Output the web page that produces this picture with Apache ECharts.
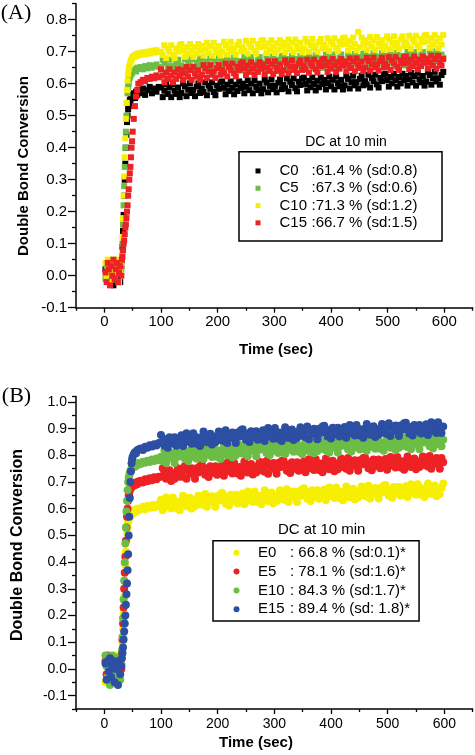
<!DOCTYPE html>
<html><head><meta charset="utf-8">
<script src="https://cdn.jsdelivr.net/npm/echarts@6/dist/echarts.min.js"></script>
<style>html,body{margin:0;padding:0;background:#fff}#c{width:475px;height:755px}</style>
</head><body><div id="c"></div>
<script>
// ---- shared sampling times (sec) ----
const time = [2,4,6,8,10,12,14,16,18,20,22,24,26,28,30,
31,32,33,34,35,36,37,38,39,40,41,42,43,44,45,46,47,48,49,50,
52,54,56,58,60,
64,68,72,76,80,84,88,92,96,
100,103,106,109,112,115,118,121,124,127,130,133,
136,139,142,145,148,151,154,157,160,163,166,169,
172,175,178,181,184,187,190,193,196,199,202,205,
208,211,214,217,220,223,226,229,232,235,238,241,
244,247,250,253,256,259,262,265,268,271,274,277,
280,283,286,289,292,295,298,301,304,307,310,313,
316,319,322,325,328,331,334,337,340,343,346,349,
352,355,358,361,364,367,370,373,376,379,382,385,
388,391,394,397,400,403,406,409,412,415,418,421,
424,427,430,433,436,439,442,445,448,451,454,457,
460,463,466,469,472,475,478,481,484,487,490,493,
496,499,502,505,508,511,514,517,520,523,526,529,
532,535,538,541,544,547,550,553,556,559,562,565,
568,571,574,577,580,583,586,589,592,595,598];

// ---- panel A series ----
const namesA = ['C0','C5','C10','C15'];
const detailsA = [':61.4 % (sd:0.8)', ':67.3 % (sd:0.6)', ':71.3 % (sd:1.2)', ':66.7 % (sd:1.5)'];
const C0 = [0.02,-0.01,0.03,0.00,-0.02,0.04,0.01,-0.03,0.02,0.03,-0.01,0.00,0.04,-0.02,0.03,
0.05,0.09,0.14,0.19,0.25,0.30,0.35,0.40,0.44,0.48,0.50,0.52,0.53,0.54,0.55,0.545,0.56,0.555,0.565,0.56,
0.57,0.555,0.575,0.565,0.58,
0.57,0.585,0.565,0.58,0.59,0.57,0.585,0.575,0.59,
0.588,0.558,0.578,0.598,0.568,0.588,0.558,0.598,0.578,0.568,0.588,0.558,
0.571,0.601,0.591,0.561,0.581,0.601,0.571,0.581,0.561,0.591,0.601,0.571,
0.584,0.574,0.604,0.564,0.594,0.584,0.604,0.574,0.564,0.594,0.584,0.604,
0.607,0.587,0.567,0.597,0.577,0.607,0.587,0.567,0.597,0.577,0.607,0.587,
0.6,0.57,0.59,0.61,0.58,0.6,0.57,0.61,0.59,0.58,0.6,0.57,
0.583,0.613,0.603,0.573,0.593,0.613,0.583,0.593,0.573,0.603,0.613,0.583,
0.596,0.586,0.616,0.576,0.606,0.596,0.616,0.586,0.576,0.606,0.596,0.616,
0.619,0.599,0.579,0.609,0.589,0.619,0.599,0.579,0.609,0.589,0.619,0.599,
0.612,0.582,0.602,0.622,0.592,0.612,0.582,0.622,0.602,0.592,0.612,0.582,
0.595,0.625,0.615,0.585,0.605,0.625,0.595,0.605,0.585,0.615,0.625,0.595,
0.608,0.598,0.628,0.588,0.618,0.608,0.628,0.598,0.588,0.618,0.608,0.628,
0.631,0.611,0.591,0.621,0.601,0.631,0.611,0.591,0.621,0.601,0.631,0.611,
0.624,0.594,0.614,0.634,0.604,0.624,0.594,0.634,0.614,0.604,0.624,0.594,
0.607,0.637,0.627,0.597,0.617,0.637,0.607,0.617,0.597,0.627,0.637];
const C5 = [-0.01,0.03,0.01,0.04,-0.02,0.02,0.00,0.03,-0.01,0.04,0.02,-0.02,0.01,0.03,0.02,
0.06,0.10,0.16,0.22,0.28,0.34,0.40,0.45,0.50,0.54,0.57,0.59,0.60,0.615,0.62,0.625,0.63,0.63,0.635,0.64,
0.64,0.645,0.638,0.65,0.646,
0.652,0.645,0.655,0.648,0.658,0.65,0.656,0.66,0.652,
0.645,0.675,0.665,0.635,0.655,0.675,0.645,0.655,0.635,0.665,0.675,0.645,
0.657,0.647,0.677,0.637,0.667,0.657,0.677,0.647,0.637,0.667,0.657,0.677,
0.679,0.659,0.639,0.669,0.649,0.679,0.659,0.639,0.669,0.649,0.679,0.659,
0.671,0.641,0.661,0.681,0.651,0.671,0.641,0.681,0.661,0.651,0.671,0.641,
0.653,0.683,0.673,0.643,0.663,0.683,0.653,0.663,0.643,0.673,0.683,0.653,
0.665,0.655,0.685,0.645,0.675,0.665,0.685,0.655,0.645,0.675,0.665,0.685,
0.687,0.667,0.647,0.677,0.657,0.687,0.667,0.647,0.677,0.657,0.687,0.667,
0.679,0.649,0.669,0.689,0.659,0.679,0.649,0.689,0.669,0.659,0.679,0.649,
0.661,0.691,0.681,0.651,0.671,0.691,0.661,0.671,0.651,0.681,0.691,0.661,
0.673,0.663,0.693,0.653,0.683,0.673,0.693,0.663,0.653,0.683,0.673,0.693,
0.695,0.675,0.655,0.685,0.665,0.695,0.675,0.655,0.685,0.665,0.695,0.675,
0.687,0.657,0.677,0.697,0.667,0.687,0.657,0.697,0.677,0.667,0.687,0.657,
0.669,0.699,0.689,0.659,0.679,0.699,0.669,0.679,0.659,0.689,0.699,0.669,
0.681,0.671,0.701,0.661,0.691,0.681,0.701,0.671,0.661,0.691,0.681];
const C10 = [0.04,0.00,0.05,0.02,-0.02,0.03,0.05,0.01,-0.01,0.04,0.02,0.05,-0.02,0.01,0.04,
0.07,0.12,0.18,0.25,0.31,0.37,0.43,0.49,0.54,0.58,0.61,0.63,0.645,0.655,0.66,0.668,0.672,0.675,0.68,0.684,
0.688,0.684,0.692,0.687,0.695,
0.69,0.698,0.692,0.7,0.694,0.703,0.697,0.705,0.699,
0.700,0.690,0.720,0.680,0.710,0.700,0.720,0.690,0.680,0.710,0.700,0.720,
0.724,0.704,0.684,0.714,0.694,0.724,0.704,0.684,0.714,0.694,0.724,0.704,
0.718,0.688,0.708,0.728,0.698,0.718,0.688,0.728,0.708,0.698,0.718,0.688,
0.701,0.731,0.721,0.691,0.711,0.731,0.701,0.711,0.691,0.721,0.731,0.701,
0.714,0.704,0.734,0.694,0.724,0.714,0.734,0.704,0.694,0.724,0.714,0.734,
0.736,0.716,0.696,0.726,0.706,0.736,0.716,0.696,0.726,0.706,0.736,0.716,
0.728,0.698,0.718,0.738,0.708,0.728,0.698,0.738,0.718,0.708,0.728,0.698,
0.710,0.740,0.730,0.700,0.720,0.740,0.710,0.720,0.700,0.730,0.740,0.710,
0.722,0.712,0.742,0.702,0.732,0.722,0.742,0.712,0.702,0.732,0.722,0.742,
0.744,0.724,0.704,0.734,0.714,0.744,0.724,0.704,0.762,0.714,0.744,0.724,
0.736,0.706,0.726,0.746,0.716,0.736,0.706,0.746,0.726,0.716,0.736,0.706,
0.718,0.748,0.738,0.708,0.728,0.748,0.718,0.728,0.708,0.738,0.748,0.718,
0.730,0.720,0.750,0.710,0.740,0.730,0.750,0.720,0.710,0.740,0.730,0.750,
0.752,0.732,0.712,0.742,0.722,0.752,0.732,0.712,0.742,0.722,0.752];
const C15 = [0.01,-0.02,0.04,0.02,-0.03,0.03,0.00,0.05,-0.01,0.02,0.04,-0.02,0.01,0.03,0.00,
0.05,0.06,0.08,0.10,0.11,0.13,0.15,0.16,0.18,0.20,0.22,0.25,0.27,0.30,0.32,0.34,0.37,0.40,0.42,0.45,
0.49,0.53,0.56,0.58,0.60,
0.605,0.612,0.608,0.618,0.615,0.622,0.617,0.626,0.62,
0.645,0.625,0.605,0.635,0.615,0.645,0.625,0.605,0.635,0.615,0.645,0.625,
0.642,0.612,0.632,0.652,0.622,0.642,0.612,0.652,0.632,0.622,0.642,0.612,
0.628,0.658,0.648,0.618,0.638,0.658,0.628,0.638,0.618,0.648,0.658,0.628,
0.643,0.633,0.663,0.623,0.653,0.643,0.663,0.633,0.623,0.653,0.643,0.663,
0.667,0.647,0.627,0.657,0.637,0.667,0.647,0.627,0.657,0.637,0.667,0.647,
0.660,0.630,0.650,0.670,0.640,0.660,0.630,0.670,0.650,0.640,0.660,0.630,
0.643,0.673,0.663,0.633,0.653,0.673,0.643,0.653,0.633,0.663,0.673,0.643,
0.655,0.645,0.675,0.635,0.665,0.655,0.675,0.645,0.635,0.665,0.655,0.675,
0.677,0.657,0.637,0.667,0.647,0.677,0.657,0.637,0.667,0.647,0.677,0.657,
0.669,0.639,0.659,0.679,0.649,0.669,0.639,0.679,0.659,0.649,0.669,0.639,
0.651,0.681,0.671,0.641,0.661,0.681,0.651,0.661,0.641,0.671,0.681,0.651,
0.663,0.653,0.683,0.643,0.673,0.663,0.683,0.653,0.643,0.673,0.663,0.683,
0.685,0.665,0.645,0.675,0.655,0.685,0.665,0.645,0.675,0.655,0.685,0.665,
0.677,0.647,0.667,0.687,0.657,0.677,0.647,0.687,0.667,0.657,0.677];

// ---- panel B series ----
const namesB = ['E0','E5','E10','E15'];
const detailsB = [': 66.8 % (sd:0.1)*', ': 78.1 % (sd:1.6)*', ': 84.3 % (sd:1.7)*', ': 89.4 % (sd: 1.8)*'];
const E0 = [-0.05,0.02,-0.03,0.04,0.0,-0.04,0.03,-0.02,0.01,0.05,-0.03,0.02,-0.01,0.03,0.01,
0.06,0.10,0.15,0.21,0.27,0.33,0.39,0.44,0.48,0.51,0.53,0.55,0.56,0.565,0.57,0.575,0.58,0.578,0.585,0.59,
0.584,0.595,0.59,0.6,0.594,
0.6,0.607,0.598,0.61,0.604,0.613,0.606,0.615,0.609,
0.634,0.594,0.618,0.642,0.610,0.626,0.602,0.642,0.618,0.602,0.626,0.594,
0.617,0.649,0.633,0.609,0.625,0.641,0.601,0.625,0.609,0.633,0.649,0.617,
0.631,0.615,0.655,0.607,0.639,0.631,0.647,0.623,0.607,0.647,0.631,0.655,
0.660,0.636,0.620,0.644,0.612,0.652,0.636,0.628,0.652,0.620,0.644,0.628,
0.657,0.617,0.641,0.665,0.633,0.649,0.625,0.665,0.641,0.625,0.649,0.617,
0.637,0.669,0.653,0.629,0.645,0.661,0.621,0.645,0.629,0.653,0.669,0.637,
0.649,0.633,0.673,0.625,0.657,0.649,0.665,0.641,0.625,0.665,0.649,0.673,
0.677,0.653,0.637,0.661,0.629,0.669,0.653,0.645,0.669,0.637,0.661,0.645,
0.672,0.632,0.656,0.680,0.648,0.664,0.640,0.680,0.656,0.640,0.664,0.632,
0.651,0.683,0.667,0.643,0.659,0.675,0.635,0.659,0.643,0.667,0.683,0.651,
0.662,0.646,0.686,0.638,0.670,0.662,0.678,0.654,0.638,0.678,0.662,0.686,
0.689,0.665,0.649,0.673,0.641,0.681,0.665,0.657,0.681,0.649,0.673,0.657,
0.684,0.644,0.668,0.692,0.660,0.676,0.652,0.692,0.668,0.652,0.676,0.644,
0.663,0.695,0.679,0.655,0.671,0.687,0.647,0.671,0.655,0.679,0.695];
const E5 = [0.03,-0.02,0.05,0.0,-0.04,0.02,0.04,-0.01,0.03,-0.03,0.01,0.04,-0.02,0.02,0.0,
0.06,0.11,0.17,0.23,0.30,0.36,0.42,0.48,0.53,0.57,0.60,0.63,0.65,0.66,0.67,0.675,0.68,0.685,0.682,0.69,
0.694,0.688,0.698,0.692,0.702,
0.705,0.698,0.71,0.703,0.714,0.707,0.718,0.71,0.72,
0.720,0.752,0.736,0.712,0.728,0.744,0.704,0.728,0.712,0.736,0.752,0.720,
0.736,0.720,0.760,0.712,0.744,0.736,0.752,0.728,0.712,0.752,0.736,0.760,
0.767,0.743,0.727,0.751,0.719,0.759,0.743,0.735,0.759,0.727,0.751,0.735,
0.764,0.724,0.748,0.772,0.740,0.756,0.732,0.772,0.748,0.732,0.756,0.724,
0.744,0.776,0.760,0.736,0.752,0.768,0.728,0.752,0.736,0.760,0.776,0.744,
0.755,0.739,0.779,0.731,0.763,0.755,0.771,0.747,0.731,0.771,0.755,0.779,
0.782,0.758,0.742,0.766,0.734,0.774,0.758,0.750,0.774,0.742,0.766,0.750,
0.777,0.737,0.761,0.785,0.753,0.769,0.745,0.785,0.761,0.745,0.769,0.737,
0.756,0.788,0.772,0.748,0.764,0.780,0.740,0.764,0.748,0.772,0.788,0.756,
0.766,0.750,0.790,0.742,0.774,0.766,0.782,0.758,0.742,0.782,0.766,0.790,
0.792,0.768,0.752,0.776,0.744,0.784,0.768,0.760,0.784,0.752,0.776,0.760,
0.786,0.746,0.770,0.794,0.762,0.778,0.754,0.794,0.770,0.754,0.778,0.746,
0.764,0.796,0.780,0.756,0.772,0.788,0.748,0.772,0.756,0.780,0.796,0.764,
0.774,0.758,0.798,0.750,0.782,0.774,0.790,0.766,0.750,0.790,0.774];
const E10 = [0.05,0.01,-0.03,0.04,-0.06,0.02,0.05,0.0,-0.02,0.03,-0.05,0.04,0.01,-0.04,0.02,
0.07,0.12,0.19,0.26,0.33,0.40,0.47,0.53,0.59,0.63,0.67,0.70,0.715,0.725,0.735,0.74,0.745,0.75,0.755,0.758,
0.762,0.757,0.767,0.763,0.771,
0.768,0.776,0.772,0.78,0.775,0.784,0.779,0.788,0.782,
0.795,0.779,0.819,0.771,0.803,0.795,0.811,0.787,0.771,0.811,0.795,0.819,
0.827,0.803,0.787,0.811,0.779,0.819,0.803,0.795,0.819,0.787,0.811,0.795,
0.826,0.786,0.810,0.834,0.802,0.818,0.794,0.834,0.810,0.794,0.818,0.786,
0.808,0.840,0.824,0.800,0.816,0.832,0.792,0.816,0.800,0.824,0.840,0.808,
0.821,0.805,0.845,0.797,0.829,0.821,0.837,0.813,0.797,0.837,0.821,0.845,
0.849,0.825,0.809,0.833,0.801,0.841,0.825,0.817,0.841,0.809,0.833,0.817,
0.845,0.805,0.829,0.853,0.821,0.837,0.813,0.853,0.829,0.813,0.837,0.805,
0.824,0.856,0.840,0.816,0.832,0.848,0.808,0.832,0.816,0.840,0.856,0.824,
0.835,0.819,0.859,0.811,0.843,0.835,0.851,0.827,0.811,0.851,0.835,0.859,
0.862,0.838,0.822,0.846,0.814,0.854,0.838,0.830,0.854,0.822,0.846,0.830,
0.857,0.817,0.841,0.865,0.833,0.849,0.825,0.865,0.841,0.825,0.849,0.817,
0.836,0.868,0.852,0.828,0.844,0.860,0.820,0.844,0.828,0.852,0.868,0.836,
0.847,0.831,0.871,0.823,0.855,0.847,0.863,0.839,0.823,0.863,0.847,0.871,
0.874,0.850,0.834,0.858,0.826,0.866,0.850,0.842,0.866,0.834,0.858];
const E15 = [0.02,-0.04,0.03,-0.01,0.04,-0.03,0.01,0.03,-0.05,0.0,0.02,-0.06,0.03,-0.02,0.01,
0.04,0.06,0.08,0.11,0.14,0.17,0.20,0.24,0.28,0.32,0.37,0.43,0.50,0.57,0.64,0.70,0.74,0.77,0.785,0.795,
0.805,0.812,0.808,0.818,0.822,
0.826,0.82,0.832,0.828,0.838,0.833,0.842,0.837,0.846,
0.876,0.852,0.836,0.860,0.828,0.868,0.852,0.844,0.868,0.836,0.860,0.844,
0.875,0.835,0.859,0.883,0.851,0.867,0.843,0.883,0.859,0.843,0.867,0.835,
0.857,0.889,0.873,0.849,0.865,0.881,0.841,0.865,0.849,0.873,0.889,0.857,
0.870,0.854,0.894,0.846,0.878,0.870,0.886,0.862,0.846,0.886,0.870,0.894,
0.898,0.874,0.858,0.882,0.850,0.890,0.874,0.866,0.890,0.858,0.882,0.866,
0.894,0.854,0.878,0.902,0.870,0.886,0.862,0.902,0.878,0.862,0.886,0.854,
0.873,0.905,0.889,0.865,0.881,0.897,0.857,0.881,0.865,0.889,0.905,0.873,
0.884,0.868,0.908,0.860,0.892,0.884,0.900,0.876,0.860,0.900,0.884,0.908,
0.911,0.887,0.871,0.895,0.863,0.903,0.887,0.879,0.903,0.871,0.895,0.879,
0.906,0.866,0.890,0.914,0.882,0.898,0.874,0.914,0.890,0.874,0.898,0.866,
0.885,0.917,0.901,0.877,0.893,0.909,0.869,0.893,0.877,0.901,0.917,0.885,
0.896,0.880,0.920,0.872,0.904,0.896,0.912,0.888,0.872,0.912,0.896,0.920,
0.922,0.898,0.882,0.906,0.874,0.914,0.898,0.890,0.914,0.882,0.906,0.890,
0.916,0.876,0.900,0.924,0.892,0.908,0.884,0.924,0.900,0.884,0.908];

// ---- axis ticks ----
const xMajor = [0,100,200,300,400,500,600];
const xMinor = [-50,50,150,250,350,450,550,650];
const yMajorA = [-0.1,0,0.1,0.2,0.3,0.4,0.5,0.6,0.7,0.8];
const yMinorA = [-0.05,0.05,0.15,0.25,0.35,0.45,0.55,0.65,0.75,0.85];
const yMajorB = [-0.1,0,0.1,0.2,0.3,0.4,0.5,0.6,0.7,0.8,0.9,1.0];
const yMinorB = [-0.15,-0.05,0.05,0.15,0.25,0.35,0.45,0.55,0.65,0.75,0.85,0.95,1.02];

const colorsA = ['#000000','#6cbd45','#f6f000','#ee2124'];
const colorsB = ['#f6ef00','#ee2124','#6cbd45','#2c4fa3'];
const FONT = '"Liberation Sans", Arial, sans-serif';

const chart = echarts.init(document.getElementById('c'), null, {renderer:'canvas'});

function xAxes(grid, fs, margin){
  return [
    {gridIndex:grid, type:'value', position:'bottom', min:-50, max:650,
     axisLine:{show:true, onZero:false, lineStyle:{color:'#000', width:1.5}},
     axisTick:{show:true, customValues:xMinor, length:3, lineStyle:{color:'#000', width:1.3}},
     axisLabel:{show:false}, splitLine:{show:false}},
    {gridIndex:grid, type:'value', position:'bottom', min:-50, max:650,
     axisLine:{show:false, onZero:false},
     axisTick:{show:true, customValues:xMajor, length:5, lineStyle:{color:'#000', width:1.3}},
     axisLabel:{show:true, customValues:xMajor, color:'#000', fontFamily:FONT, fontSize:fs, margin:margin},
     splitLine:{show:false}}
  ];
}
function yAxes(grid, min, max, major, minor, fs){
  return [
    {gridIndex:grid, type:'value', position:'left', min:min, max:max,
     axisLine:{show:true, onZero:false, lineStyle:{color:'#000', width:1.5}},
     axisTick:{show:true, customValues:minor, length:4, lineStyle:{color:'#000', width:1.3}},
     axisLabel:{show:false}, splitLine:{show:false}},
    {gridIndex:grid, type:'value', position:'left', min:min, max:max,
     axisLine:{show:false, onZero:false},
     axisTick:{show:true, customValues:major, length:8, lineStyle:{color:'#000', width:1.3}},
     axisLabel:{show:true, customValues:major, color:'#000', fontFamily:FONT, fontSize:fs, margin:9,
       formatter:v=>v.toFixed(1)},
     splitLine:{show:false}}
  ];
}

const seriesA = [C0,C5,C10,C15].map((arr,i)=>({
  type:'scatter', name:namesA[i], xAxisIndex:0, yAxisIndex:0, symbol:'rect', symbolSize:6,
  itemStyle:{color:colorsA[i], opacity:1}, silent:true, animation:false,
  data: time.map((t,j)=>[t, arr[j]])
}));
const seriesB = [E0,E5,E10,E15].map((arr,i)=>({
  type:'scatter', name:namesB[i], xAxisIndex:2, yAxisIndex:2, symbol:'circle', symbolSize:8,
  itemStyle:{color:colorsB[i], opacity:1}, silent:true, animation:false,
  data: time.map((t,j)=>[t, arr[j]])
}));

function legendCfg(names, details, left, top, pad, rowH, icon, iconSize, spacer, nameW, valW){
  return {
    data: names.map(n=>({name:n, icon:icon})),
    orient:'vertical', left:left, top:top, itemGap:0,
    itemWidth:iconSize, itemHeight:iconSize,
    borderColor:'#000', borderWidth:1.5, padding:pad, backgroundColor:'#fff',
    selectedMode:false,
    formatter: n => '{s| }{n|'+n+'}{v|'+details[names.indexOf(n)]+'}',
    textStyle:{color:'#000', fontFamily:FONT, fontSize:15, lineHeight:rowH,
      rich:{
        s:{width:spacer, fontSize:15, lineHeight:rowH},
        n:{width:nameW, fontSize:15, lineHeight:rowH, fontFamily:FONT, color:'#000'},
        v:{width:valW, fontSize:15, lineHeight:rowH, fontFamily:FONT, color:'#000'}
      }}
  };
}

const option = {
  animation:false,
  backgroundColor:'#fff',
  grid:[
    {left:76, top:3.7, width:396.7, height:304, containLabel:false},
    {left:76, top:396.6, width:396.7, height:312.4, containLabel:false}
  ],
  xAxis:[...xAxes(0,15,7), ...xAxes(1,14,8)],
  yAxis:[...yAxes(0,-0.1,0.85,yMajorA,yMinorA,15), ...yAxes(1,-0.15,1.02,yMajorB,yMinorB,14)],
  legend:[
    legendCfg(namesA, detailsA, 239, 151.7, [10.6,18.5,9.4,16.5], 17.3, 'rect', 5, 14, 32, 112),
    legendCfg(namesB, detailsB, 213, 540.7, [2.5,9,2.3,20.5], 18.9, 'circle', 6, 13.5, 32, 118)
  ],
  series:[...seriesA, ...seriesB],
  graphic:[
    {type:'text', x:16, y:13.5, style:{text:'(A)', font:'22px "Liberation Serif", "Times New Roman", serif', fill:'#000', textAlign:'center', textVerticalAlign:'middle'}},
    {type:'text', x:16.5, y:396, style:{text:'(B)', font:'22px "Liberation Serif", "Times New Roman", serif', fill:'#000', textAlign:'center', textVerticalAlign:'middle'}},
    {type:'text', x:24, y:166, rotation:Math.PI/2, style:{text:'Double Bond Conversion', font:'bold 15px '+FONT, fill:'#000', textAlign:'center', textVerticalAlign:'middle'}},
    {type:'text', x:276, y:350, style:{text:'Time (sec)', font:'bold 15px '+FONT, fill:'#000', textAlign:'center', textVerticalAlign:'middle'}},
    {type:'text', x:18, y:545, rotation:Math.PI/2, style:{text:'Double Bond Conversion', font:'bold 16px '+FONT, fill:'#000', textAlign:'center', textVerticalAlign:'middle'}},
    {type:'text', x:256, y:742.7, style:{text:'Time (sec)', font:'bold 15px '+FONT, fill:'#000', textAlign:'center', textVerticalAlign:'middle'}},
    {type:'text', x:346, y:141.7, style:{text:'DC at 10 min', font:'14px '+FONT, fill:'#000', textAlign:'center', textVerticalAlign:'middle'}},
    {type:'text', x:321.7, y:530, style:{text:'DC at 10 min', font:'15px '+FONT, fill:'#000', textAlign:'center', textVerticalAlign:'middle'}}
  ]
};
chart.setOption(option);
</script></body></html>
